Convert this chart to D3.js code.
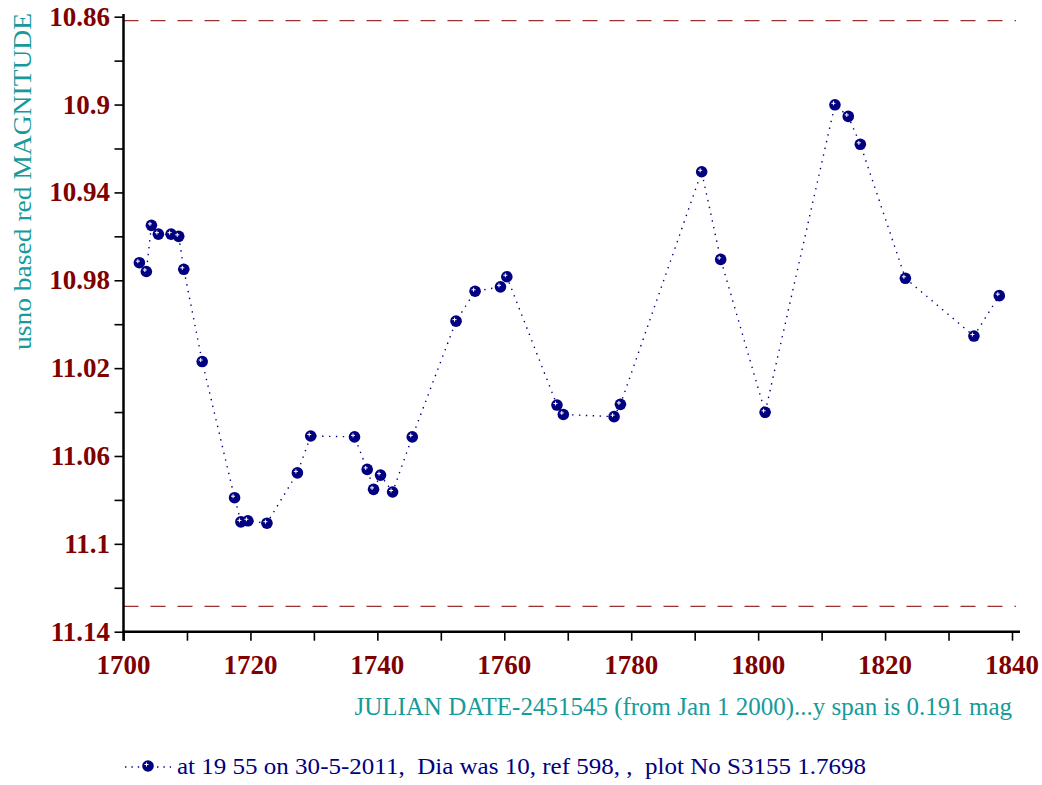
<!DOCTYPE html>
<html>
<head>
<meta charset="utf-8">
<script src="https://cdn.jsdelivr.net/npm/d3@7"></script>
<style>
  body { margin: 0; background: #fff; }
  svg { display: block; }
</style>
</head>
<body>
<div id="chart"></div>
<script>
// julian date - 2451545
const jd = [1702.5, 1703.6, 1704.4, 1705.5, 1707.5, 1708.7, 1709.5, 1712.4, 1717.5, 1718.5,
    1719.6, 1722.6, 1727.4, 1729.5, 1736.4, 1738.4, 1739.4, 1740.5, 1742.4, 1745.5,
    1752.4, 1755.4, 1759.4, 1760.4, 1768.3, 1769.3, 1777.3, 1778.3, 1791.1, 1794.1,
    1801.1, 1812.1, 1814.2, 1816.1, 1823.2, 1834.0, 1838.0];
const mag = [10.972, 10.976, 10.955, 10.959, 10.959, 10.960, 10.975, 11.017, 11.079, 11.090,
    11.0895, 11.0906, 11.0677, 11.0509, 11.0513, 11.0661, 11.0752, 11.0687, 11.0764, 11.0513,
    10.9986, 10.985, 10.983, 10.9784, 11.0368, 11.0411, 11.0421, 11.0365, 10.9306, 10.9705,
    11.0401, 10.9001, 10.9054, 10.9181, 10.9791, 11.0054, 10.987];
const limits = [10.8618, 11.1285];
const xTicks = [1700, 1720, 1740, 1760, 1780, 1800, 1820, 1840];
const yTicks = [10.86, 10.9, 10.94, 10.98, 11.02, 11.06, 11.1, 11.14];
const yLabel = "usno based red MAGNITUDE";
const xLabel = "JULIAN DATE-2451545 (from Jan 1 2000)...y span is 0.191 mag";
const legendText = "at 19 55 on 30-5-2011,  Dia was 10, ref 598, ,  plot No S3155 1.7698";

const W = 1042, H = 785;
const mLeft = 123.5, mRight = 1012, mTop = 16.7, mBottom = 631.7;
const tickCol = "#800000", labelCol = "#169a9a", navy = "#000080";
const serif = "Liberation Serif, Times New Roman, serif";

const svg = d3.select("#chart").append("svg")
    .attr("width", W).attr("height", H);

const x = d3.scaleLinear().domain([1700, 1840]).range([mLeft, mRight]);
const y = d3.scaleLinear().domain([10.86, 11.14]).range([mTop, mBottom]);

// dashed limit lines
svg.selectAll(".limit")
    .data(limits)
    .enter()
    .append("line")
    .attr("x1", mLeft).attr("x2", 1016)
    .attr("y1", d => y(d)).attr("y2", d => y(d))
    .attr("stroke", "#9b3030")
    .attr("stroke-width", 1.3)
    .attr("stroke-dasharray", "15,12");

// axes
const xAxis = svg.append("g")
    .attr("transform", `translate(0,${mBottom})`)
    .call(d3.axisBottom(x).tickValues(d3.range(1700, 1841, 10)).tickSize(9).tickFormat(""));
const yAxis = svg.append("g")
    .attr("transform", `translate(${mLeft},0)`)
    .call(d3.axisLeft(y).tickValues(d3.range(0, 15).map(i => 10.86 + i * 0.02)).tickSize(9).tickFormat(""));
[xAxis, yAxis].forEach(g => {
    g.select(".domain").remove();
    g.selectAll(".tick line").attr("stroke", "#000").attr("stroke-width", 1.6);
});
svg.append("line")
    .attr("x1", mLeft - 1).attr("x2", 1020)
    .attr("y1", mBottom).attr("y2", mBottom)
    .attr("stroke", "#000").attr("stroke-width", 2.5);
svg.append("line")
    .attr("x1", mLeft).attr("x2", mLeft)
    .attr("y1", 14).attr("y2", mBottom + 9)
    .attr("stroke", "#000").attr("stroke-width", 2.5);

// tick labels
svg.selectAll(".xlab")
    .data(xTicks)
    .enter()
    .append("text")
    .attr("x", d => x(d))
    .attr("y", 674)
    .attr("text-anchor", "middle")
    .attr("font-family", serif)
    .attr("font-weight", "bold")
    .attr("font-size", 27)
    .attr("fill", tickCol)
    .text(d => d);
svg.selectAll(".ylab")
    .data(yTicks)
    .enter()
    .append("text")
    .attr("x", 110)
    .attr("y", d => y(d) + 9)
    .attr("text-anchor", "end")
    .attr("font-family", serif)
    .attr("font-weight", "bold")
    .attr("font-size", 27)
    .attr("fill", tickCol)
    .text(d => String(+d.toFixed(2)));

// axis titles
svg.append("text")
    .attr("transform", "translate(31,350) rotate(-90)")
    .attr("font-family", serif)
    .attr("font-size", 25)
    .attr("fill", labelCol)
    .attr("textLength", 337)
    .attr("lengthAdjust", "spacingAndGlyphs")
    .text(yLabel);
svg.append("text")
    .attr("x", 1012).attr("y", 715)
    .attr("text-anchor", "end")
    .attr("font-family", serif)
    .attr("font-size", 25)
    .attr("fill", labelCol)
    .text(xLabel);

// series
const pts = jd.map((d, i) => [d, mag[i]]);
const line = d3.line().x(d => x(d[0])).y(d => y(d[1]));
svg.append("path")
    .attr("d", line(pts))
    .attr("fill", "none")
    .attr("stroke", navy)
    .attr("stroke-width", 1.4)
    .attr("stroke-dasharray", "1.4,5.5");

function marker(g) {
    g.append("circle").attr("r", 5.8).attr("fill", navy);
    g.append("path").attr("d", "M-3.5,-1.5H0.5M-1.5,-3.5V0.5")
        .attr("stroke", "#fff").attr("stroke-width", 1);
}
svg.selectAll(".pt")
    .data(pts)
    .enter()
    .append("g")
    .attr("transform", d => `translate(${x(d[0])},${y(d[1])})`)
    .each(function() { marker(d3.select(this)); });

// legend
svg.append("line")
    .attr("x1", 125).attr("x2", 171)
    .attr("y1", 767).attr("y2", 767)
    .attr("stroke", navy)
    .attr("stroke-width", 1.4)
    .attr("stroke-dasharray", "1.4,5");
marker(svg.append("g").attr("transform", "translate(148,766)"));
svg.append("text")
    .attr("x", 177).attr("y", 774)
    .attr("font-family", serif)
    .attr("font-size", 24)
    .attr("fill", navy)
    .attr("textLength", 689)
    .attr("lengthAdjust", "spacingAndGlyphs")
    .style("white-space", "pre")
    .text(legendText);
</script>
</body>
</html>
